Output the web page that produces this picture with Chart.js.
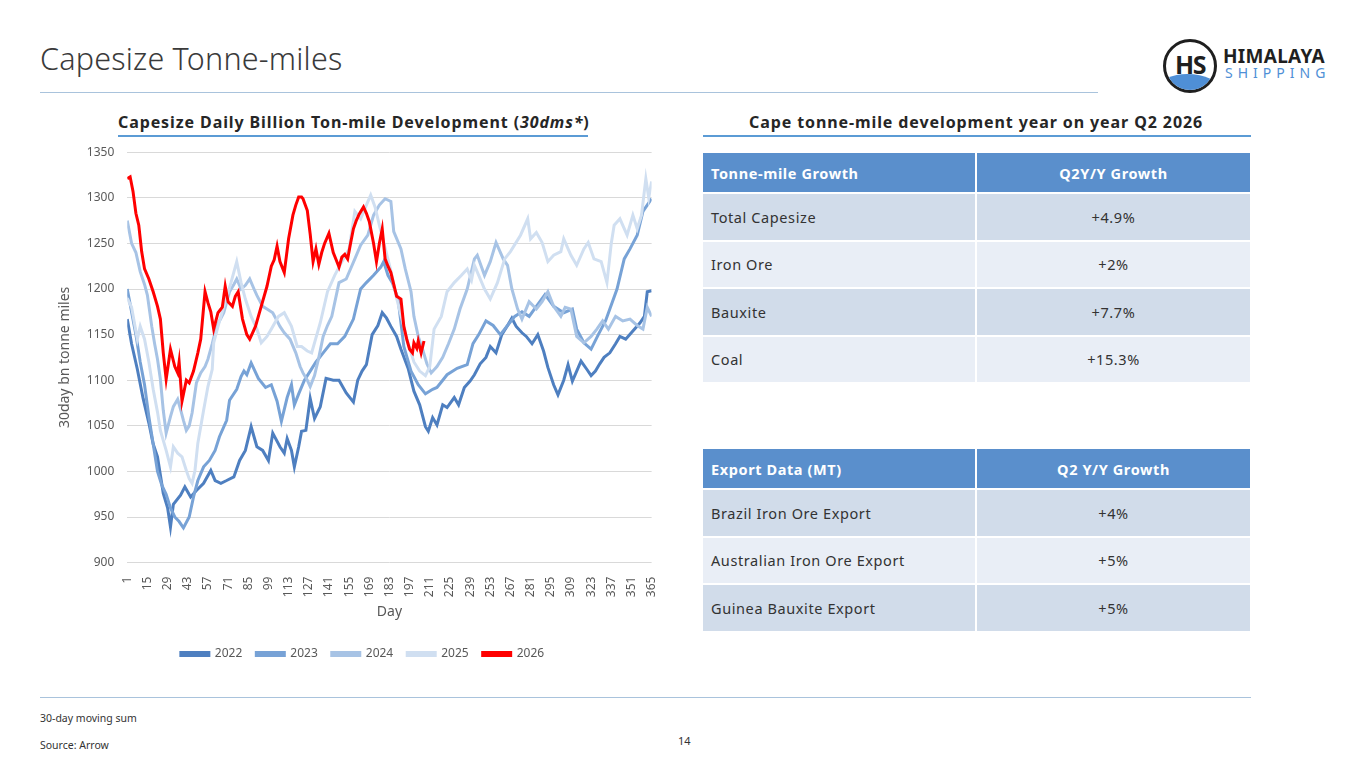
<!DOCTYPE html>
<html>
<head>
<meta charset="utf-8">
<script src="https://cdn.jsdelivr.net/npm/chart.js@4.4.1/dist/chart.umd.min.js"></script>
<style>
  body { margin: 0; width: 1365px; height: 768px; background: #fff; font-family: "Noto Sans", "Open Sans", sans-serif; color: #333; position: relative; overflow: hidden; }
  .abs { position: absolute; }
  #title { left: 40px; top: 37px; font-size: 30.5px; font-weight: 300; color: #3a3a3a; letter-spacing: 0.2px; }
  .rule { position: absolute; height: 1px; background: #a9c3dc; }
  .sub { position: absolute; font-size: 16px; font-weight: 700; color: #262626; white-space: nowrap; letter-spacing: 0.9px; }
  .subline { position: absolute; height: 2px; background: #5b9bd5; }
  #chartBox { position: absolute; left: 36px; top: 132px; width: 636px; height: 538px; }
  table { position: absolute; border-collapse: separate; border-spacing: 2px; font-size: 14.5px; letter-spacing: 0.6px; }
  th { background: #5a8fcc; color: #fff; font-weight: 700; height: 39px; padding: 0 8px; }
  td { height: 45.5px; padding: 0 8px; color: #333; }
  th:first-child, td:first-child { text-align: left; width: 256px; }
  th:last-child, td:last-child { text-align: center; width: 257px; }
  tr.d td { background: #d1dcea; }
  tr.l td { background: #e9eef6; }
  .foot { position: absolute; font-size: 10.5px; color: #333; }
  #logoC { left: 1163px; top: 39px; width: 48px; height: 48px; border: 3px solid #1f1f1f; border-radius: 50%; overflow: hidden; background: #fff; }
  #logoC .hs { position: absolute; left: 0; right: 0; top: 5px; text-align: center; font-weight: 700; font-size: 25px; color: #1f1f1f; letter-spacing: -1.5px; z-index: 2; }
  #logoC .wave { position: absolute; left: -6px; width: 60px; top: 32px; height: 30px; background: #4f8fd6; border-radius: 45% 55% 0 0; }
  #logoT1 { left: 1223px; top: 43px; font-size: 19px; font-weight: 700; color: #1f1f1f; letter-spacing: 0.3px; }
  #logoT2 { left: 1225px; top: 63px; font-size: 14px; font-weight: 400; color: #4f8fd6; letter-spacing: 5px; }
</style>
</head>
<body>
<div id="title" class="abs">Capesize Tonne-miles</div>
<div class="rule" style="left:40px; top:92px; width:1058px;"></div>

<div id="logoC" class="abs"><div class="hs">HS</div><div class="wave"></div></div>
<div id="logoT1" class="abs">HIMALAYA</div>
<div id="logoT2" class="abs">SHIPPING</div>

<div class="sub" style="left:118px; top:111px;">Capesize Daily Billion Ton-mile Development (<i>30dms*</i>)</div>
<div class="subline" style="left:118px; top:135px; width:470px;"></div>
<div class="sub" style="left:749px; top:111px;">Cape tonne-mile development year on year Q2 2026</div>
<div class="subline" style="left:703px; top:135px; width:548px;"></div>

<div id="chartBox"><canvas id="c"></canvas></div>

<table style="left:701px; top:151px;">
  <tr><th>Tonne-mile Growth</th><th>Q2Y/Y Growth</th></tr>
  <tr class="d"><td>Total Capesize</td><td>+4.9%</td></tr>
  <tr class="l"><td>Iron Ore</td><td>+2%</td></tr>
  <tr class="d"><td>Bauxite</td><td>+7.7%</td></tr>
  <tr class="l"><td>Coal</td><td>+15.3%</td></tr>
</table>

<table style="left:701px; top:447px;">
  <tr><th>Export Data (MT)</th><th>Q2 Y/Y Growth</th></tr>
  <tr class="d"><td>Brazil Iron Ore Export</td><td>+4%</td></tr>
  <tr class="l"><td>Australian Iron Ore Export</td><td>+5%</td></tr>
  <tr class="d"><td>Guinea Bauxite Export</td><td>+5%</td></tr>
</table>

<div class="rule" style="left:40px; top:697px; width:1211px;"></div>
<div class="foot" style="left:40px; top:711px;">30-day moving sum</div>
<div class="foot" style="left:40px; top:738px;">Source: Arrow</div>
<div class="foot" style="left:678px; top:733px; font-size:11px;">14</div>

<script>
// x-axis tick days shown on the chart
const tickDays = [1, 15, 29, 43, 57, 71, 85, 99, 113, 127, 141, 155, 169, 183, 197, 211, 225, 239, 253, 267, 281, 295, 309, 323, 337, 351, 365];
const yTicks = [900, 950, 1000, 1050, 1100, 1150, 1200, 1250, 1300, 1350];

// values (30-day moving sum, bn tonne-miles)
const days2022 = [1, 4, 8, 12, 16, 19, 22, 26, 29, 31, 33, 38, 41, 45, 49, 54, 59, 62, 66, 70, 75, 79, 83, 87, 91, 95, 99, 102, 107, 110, 112, 115, 117, 120, 122, 125, 128, 131, 135, 139, 144, 148, 153, 158, 161, 164, 167, 171, 175, 178, 181, 184, 188, 191, 196, 200, 204, 208, 210, 213, 216, 220, 223, 228, 231, 235, 239, 242, 246, 250, 253, 257, 261, 265, 268, 271, 275, 278, 282, 286, 290, 293, 297, 300, 304, 307, 310, 313, 316, 320, 323, 326, 329, 332, 336, 340, 343, 347, 352, 357, 360, 362, 365];
const vals2022 = [1167, 1140, 1112, 1080, 1053, 1030, 1016, 976, 960, 939, 964, 974, 983, 972, 979, 987, 1001, 990, 987, 990, 994, 1012, 1023, 1049, 1027, 1023, 1012, 1042, 1027, 1020, 1036, 1023, 1005, 1027, 1044, 1045, 1080, 1058, 1071, 1102, 1100, 1100, 1086, 1076, 1100, 1110, 1117, 1150, 1160, 1174, 1168, 1159, 1148, 1134, 1113, 1088, 1073, 1049, 1044, 1059, 1051, 1073, 1070, 1081, 1073, 1092, 1099, 1106, 1118, 1125, 1137, 1130, 1150, 1160, 1168, 1159, 1152, 1148, 1140, 1150, 1132, 1114, 1095, 1084, 1100, 1117, 1099, 1110, 1121, 1112, 1105, 1110, 1118, 1125, 1130, 1140, 1148, 1145, 1154, 1163, 1170, 1197, 1198];

const days2023 = [1, 4, 7, 10, 13, 16, 19, 22, 25, 28, 31, 34, 37, 40, 44, 47, 50, 54, 58, 62, 65, 70, 72, 77, 80, 82, 84, 87, 92, 97, 101, 105, 108, 112, 115, 117, 120, 124, 128, 132, 137, 142, 147, 152, 158, 163, 167, 172, 177, 179, 182, 185, 189, 191, 193, 198, 203, 208, 213, 216, 220, 223, 230, 237, 241, 245, 250, 255, 260, 265, 270, 275, 280, 285, 291, 297, 304, 310, 313, 318, 323, 328, 333, 336, 341, 346, 350, 355, 359, 365];
const vals2023 = [1200, 1175, 1150, 1120, 1095, 1060, 1030, 1000, 985, 975, 960, 950, 945, 938, 950, 972, 990, 1005, 1012, 1023, 1038, 1056, 1078, 1090, 1104, 1110, 1106, 1119, 1102, 1092, 1095, 1077, 1055, 1081, 1095, 1073, 1085, 1100, 1110, 1120, 1130, 1140, 1140, 1148, 1167, 1200, 1207, 1215, 1224, 1230, 1215, 1207, 1189, 1163, 1137, 1110, 1095, 1085, 1090, 1092, 1100, 1106, 1113, 1117, 1140, 1150, 1165, 1160, 1150, 1160, 1170, 1175, 1170, 1181, 1194, 1181, 1174, 1178, 1156, 1141, 1134, 1150, 1165, 1178, 1200, 1233, 1244, 1259, 1285, 1299];

const days2024 = [1, 4, 7, 10, 13, 15, 18, 20, 22, 24, 26, 28, 31, 33, 36, 38, 40, 42, 44, 46, 49, 52, 55, 57, 60, 63, 66, 68, 72, 75, 77, 80, 83, 86, 89, 91, 95, 98, 102, 105, 107, 110, 114, 118, 121, 123, 126, 128, 131, 134, 137, 140, 143, 148, 153, 159, 163, 168, 172, 176, 180, 184, 186, 191, 194, 198, 200, 203, 206, 209, 212, 216, 220, 224, 228, 232, 237, 242, 244, 249, 253, 257, 262, 265, 268, 272, 275, 280, 285, 289, 293, 297, 302, 305, 309, 313, 318, 323, 327, 331, 335, 340, 345, 350, 355, 359, 362, 365];
const vals2024 = [1275, 1250, 1240, 1219, 1205, 1193, 1159, 1140, 1123, 1101, 1067, 1042, 1060, 1071, 1079, 1068, 1056, 1045, 1050, 1064, 1097, 1108, 1115, 1123, 1140, 1159, 1168, 1174, 1197, 1205, 1211, 1200, 1204, 1211, 1200, 1193, 1181, 1178, 1174, 1165, 1159, 1152, 1145, 1130, 1115, 1108, 1100, 1093, 1105, 1125, 1148, 1160, 1170, 1207, 1211, 1233, 1248, 1259, 1281, 1292, 1299, 1296, 1263, 1244, 1222, 1197, 1170, 1148, 1134, 1118, 1108, 1115, 1125, 1140, 1156, 1178, 1200, 1233, 1237, 1215, 1230, 1251, 1233, 1226, 1200, 1178, 1167, 1186, 1178, 1186, 1197, 1181, 1170, 1180, 1178, 1148, 1141, 1148, 1156, 1165, 1156, 1170, 1165, 1167, 1160, 1156, 1180, 1170];

const days2025 = [1, 4, 8, 10, 13, 16, 19, 22, 24, 28, 31, 33, 36, 39, 42, 44, 46, 48, 50, 54, 57, 60, 61, 64, 69, 73, 77, 80, 83, 87, 91, 94, 98, 101, 106, 110, 115, 119, 122, 126, 129, 135, 140, 145, 150, 155, 159, 163, 167, 170, 173, 176, 180, 184, 188, 192, 196, 200, 204, 208, 211, 214, 219, 223, 228, 233, 237, 240, 242, 245, 249, 253, 258, 263, 267, 274, 279, 281, 285, 289, 293, 297, 302, 304, 309, 313, 318, 321, 325, 330, 334, 337, 339, 343, 348, 352, 355, 358, 361, 363, 365];
const vals2025 = [1190, 1180, 1145, 1159, 1145, 1120, 1090, 1065, 1045, 1023, 1005, 1027, 1020, 1016, 1001, 992, 987, 1001, 1031, 1067, 1093, 1112, 1141, 1159, 1186, 1207, 1230, 1207, 1189, 1170, 1156, 1141, 1148, 1156, 1170, 1174, 1159, 1137, 1137, 1132, 1130, 1163, 1197, 1215, 1230, 1244, 1285, 1277, 1292, 1303, 1290, 1270, 1245, 1220, 1190, 1165, 1140, 1120, 1110, 1105, 1115, 1156, 1170, 1197, 1207, 1215, 1222, 1210, 1226, 1215, 1200, 1189, 1207, 1233, 1241, 1259, 1277, 1255, 1262, 1251, 1230, 1237, 1241, 1255, 1237, 1226, 1244, 1251, 1233, 1230, 1207, 1250, 1270, 1277, 1259, 1281, 1266, 1281, 1321, 1300, 1318];

const days2026 = [1, 3, 5, 7, 9, 11, 13, 16, 19, 22, 24, 26, 28, 31, 34, 36, 37, 39, 42, 44, 47, 50, 52, 55, 57, 59, 61, 64, 67, 69, 71, 74, 76, 78, 81, 84, 86, 88, 90, 94, 98, 101, 103, 105, 107, 110, 113, 116, 118, 120, 122, 123, 126, 128, 130, 132, 134, 136, 138, 141, 144, 146, 148, 150, 152, 154, 156, 158, 160, 162, 165, 167, 169, 172, 174, 176, 178, 180, 182, 184, 186, 188, 191, 193, 195, 197, 199, 200, 202, 203, 205, 207];
const vals2026 = [1321, 1323, 1307, 1283, 1270, 1241, 1222, 1211, 1197, 1181, 1167, 1130, 1101, 1134, 1115, 1108, 1120, 1077, 1100, 1097, 1110, 1130, 1145, 1197, 1185, 1175, 1156, 1174, 1180, 1203, 1186, 1181, 1192, 1197, 1167, 1150, 1145, 1152, 1159, 1181, 1203, 1225, 1232, 1247, 1230, 1218, 1255, 1281, 1292, 1301, 1301, 1299, 1286, 1260, 1230, 1244, 1227, 1240, 1250, 1261, 1240, 1232, 1224, 1235, 1238, 1233, 1250, 1266, 1275, 1282, 1290, 1283, 1274, 1250, 1230, 1250, 1266, 1233, 1225, 1218, 1205, 1192, 1189, 1159, 1145, 1134, 1130, 1141, 1135, 1143, 1130, 1143];

const seriesNames = ['2022', '2023', '2024', '2025', '2026'];
const seriesColors = ['#4e7fc0', '#77a2d6', '#a7c3e5', '#d0dff1', '#ff0000'];

const pts = (d, v) => d.map((x, i) => ({ x, y: v[i] }));
const allDays = [days2022, days2023, days2024, days2025, days2026];
const allVals = [vals2022, vals2023, vals2024, vals2025, vals2026];

const datasets = seriesNames.map((name, i) => ({
  label: name,
  data: pts(allDays[i], allVals[i]),
  borderColor: seriesColors[i],
  backgroundColor: seriesColors[i],
  borderWidth: 3,
  pointRadius: 0,
  tension: 0,
  order: seriesNames.length - 1 - i   // later years drawn on top
}));

const txt = '#595959';
const fnt = (size) => ({ family: '"Noto Sans", sans-serif', size });
new Chart(document.getElementById('c'), {
  type: 'line',
  data: { datasets },
  options: {
    responsive: true,
    maintainAspectRatio: false,
    animation: false,
    layout: { padding: { left: 17, right: 0 } },
    plugins: {
      legend: {
        position: 'bottom',
        labels: {
          boxWidth: 28, boxHeight: 3, color: txt, padding: 14, font: fnt(12),
          sort: (a, b) => a.datasetIndex - b.datasetIndex
        }
      },
      tooltip: { enabled: false }
    },
    scales: {
      x: {
        type: 'linear', min: 1, max: 365,
        afterBuildTicks: (s) => { s.ticks = tickDays.map(v => ({ value: v })); },
        grid: { display: false },
        border: { display: false },
        ticks: { autoSkip: false, minRotation: 90, maxRotation: 90, color: txt, padding: 6, font: fnt(12), callback: (v) => String(v) },
        title: { display: true, text: 'Day', color: txt, font: fnt(14), padding: { top: 0, bottom: 14 } }
      },
      y: {
        min: 900, max: 1350,
        afterBuildTicks: (s) => { s.ticks = yTicks.map(v => ({ value: v })); },
        grid: { color: '#d9d9d9', lineWidth: 1, drawTicks: false },
        border: { display: false },
        ticks: { color: txt, padding: 13, font: fnt(12), callback: (v) => String(v) },
        title: { display: true, text: '30day bn tonne miles', color: txt, font: fnt(14), padding: { top: 4, bottom: 0 } }
      }
    }
  }
});
</script>
</body>
</html>
